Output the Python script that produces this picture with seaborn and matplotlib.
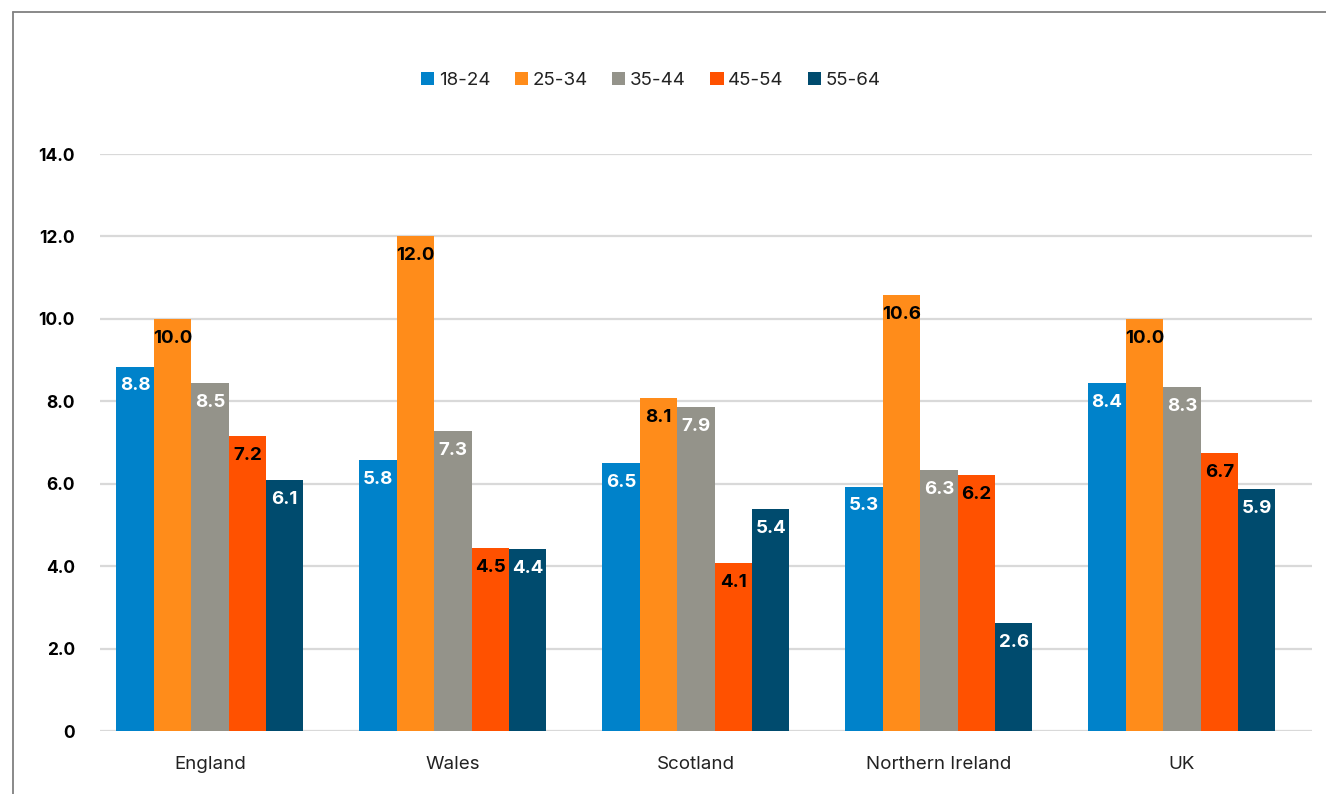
import matplotlib
matplotlib.use("Agg")
import matplotlib.pyplot as plt
import seaborn as sns
import pandas as pd
from matplotlib.lines import Line2D

regions = ["England", "Wales", "Scotland", "Northern Ireland", "UK"]
age_groups = ["18-24", "25-34", "35-44", "45-54", "55-64"]

# bar heights as drawn
v_18_24 = [8.84, 6.58, 6.51, 5.93, 8.45]
v_25_34 = [10.0, 12.0, 8.08, 10.58, 10.0]
v_35_44 = [8.45, 7.28, 7.86, 6.33, 8.35]
v_45_54 = [7.16, 4.44, 4.08, 6.21, 6.75]
v_55_64 = [6.09, 4.42, 5.39, 2.62, 5.87]

# data labels as printed
l_18_24 = ["8.8", "5.8", "6.5", "5.3", "8.4"]
l_25_34 = ["10.0", "12.0", "8.1", "10.6", "10.0"]
l_35_44 = ["8.5", "7.3", "7.9", "6.3", "8.3"]
l_45_54 = ["7.2", "4.5", "4.1", "6.2", "6.7"]
l_55_64 = ["6.1", "4.4", "5.4", "2.6", "5.9"]

y_ticks = [0, 2, 4, 6, 8, 10, 12, 14]
y_tick_labels = ["0", "2.0", "4.0", "6.0", "8.0", "10.0", "12.0", "14.0"]

colors = ["#0082CA", "#FF8C1A", "#94938A", "#FF5100", "#004B6E"]
label_colors = ["white", "black", "white", "black", "white"]

values = [v_18_24, v_25_34, v_35_44, v_45_54, v_55_64]
labels = [l_18_24, l_25_34, l_35_44, l_45_54, l_55_64]

rows = []
for g, vals in zip(age_groups, values):
    for r, v in zip(regions, vals):
        rows.append({"Region": r, "Age": g, "Value": v})
df = pd.DataFrame(rows)

sns.set_theme(style="white")
plt.rcParams["font.family"] = ["Inter", "DejaVu Sans"]

fig = plt.figure(figsize=(13.26, 7.94), dpi=100)
ax = fig.add_axes([0.0754, 0.0793, 0.9894 - 0.0754, 0.806 - 0.0793])

sns.barplot(data=df, x="Region", y="Value", hue="Age", order=regions,
            hue_order=age_groups, palette=colors, width=0.77, gap=0,
            linewidth=0, saturation=1, ax=ax, legend=True, zorder=3)

for cont, labs, lc in zip(ax.containers, labels, label_colors):
    ax.bar_label(cont, labels=labs, padding=-20, color=lc,
                 fontsize=13.5, fontweight="bold")

ax.set_ylim(0, 14)
ax.set_xlim(-0.452, 4.535)
ax.set_yticks(y_ticks)
ax.set_yticklabels(y_tick_labels, fontsize=12.5, fontweight="bold", color="black")
ax.tick_params(axis="y", length=0, pad=18)
ax.tick_params(axis="x", length=0, pad=18, labelsize=13.5, labelcolor="#222222")
ax.set_xlabel("")
ax.set_ylabel("")
ax.yaxis.grid(True, color="#D9D9D9", linewidth=1.6, zorder=0)
ax.set_axisbelow(True)
for s in ax.spines.values():
    s.set_visible(False)

handles, hlabels = ax.get_legend_handles_labels()
ax.legend(handles, hlabels, loc="center", bbox_to_anchor=(0.491, 0.899),
          bbox_transform=fig.transFigure, ncol=5, frameon=False,
          fontsize=13.5, handlelength=0.7, handleheight=0.7,
          handletextpad=0.25, columnspacing=1.3, labelcolor="#222222")

# outer frame (top and left edges)
fig.add_artist(Line2D([0.0098, 1.0], [0.985, 0.985], color="#808080", lw=1.3,
                      transform=fig.transFigure))
fig.add_artist(Line2D([0.0098, 0.0098], [0.0, 0.985], color="#808080", lw=1.3,
                      transform=fig.transFigure))

fig.savefig("out.png", dpi=100)
